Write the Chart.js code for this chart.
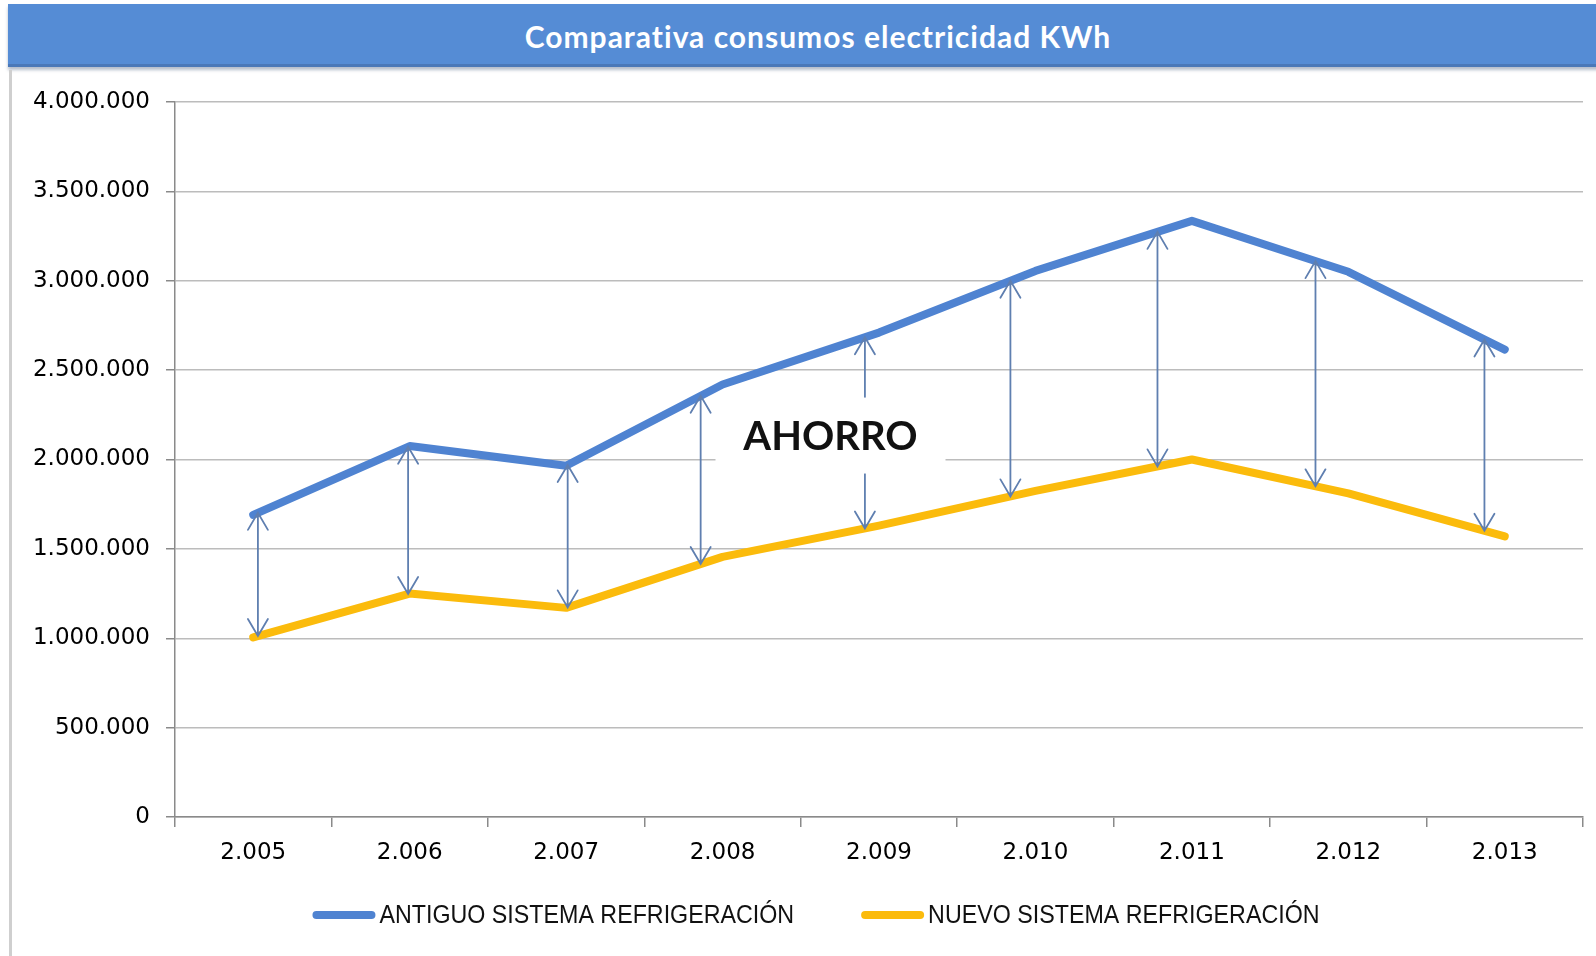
<!DOCTYPE html>
<html>
<head>
<meta charset="utf-8">
<script src="https://cdn.jsdelivr.net/npm/chart.js@4.4.0/dist/chart.umd.min.js"></script>
<style>
    html, body { margin: 0; padding: 0; background: #fff; width: 1596px; height: 956px; overflow: hidden; }
    #titulo {
        position: absolute; left: 8px; top: 4px; width: 1588px; height: 60px;
        background: #558cd5; border-bottom: 3px solid #4a78b8;
        box-shadow: 0 3px 3px rgba(90, 110, 140, 0.45);
        color: #fff; font: bold 30px Lato, sans-serif; letter-spacing: 1px;
        display: flex; align-items: center; justify-content: center;
        padding-left: 16px; padding-top: 3px; height: 57px; box-sizing: content-box;
    }
    #marco { position: absolute; left: 9px; top: 70px; width: 3px; height: 886px; background: #cfcfcf; }
    #lienzo { position: absolute; left: 0; top: 72px; width: 1596px; height: 884px; }
</style>
</head>
<body>
<div id="titulo">Comparativa consumos electricidad KWh</div>
<div id="marco"></div>
<div id="lienzo"><canvas id="grafico"></canvas></div>
<script>
const anios = ['2.005', '2.006', '2.007', '2.008', '2.009', '2.010', '2.011', '2.012', '2.013'];
const antiguo = [1690000, 2075000, 1965000, 2420000, 2710000, 3055000, 3335000, 3050000, 2615000];
const nuevo = [1005000, 1250000, 1170000, 1455000, 1630000, 1825000, 2000000, 1810000, 1570000];
const etiquetasY = ['0', '500.000', '1.000.000', '1.500.000', '2.000.000', '2.500.000', '3.000.000', '3.500.000', '4.000.000'];

// las flechas de ahorro no caen justo en el año, van un poco desplazadas (en fracción de categoría)
const desplazFlechas = [0.03, -0.01, 0.01, -0.14, -0.09, -0.16, -0.22, -0.21, -0.13];

const interpolar = (serie, pos) => {
    const i0 = Math.max(0, Math.min(serie.length - 2, Math.floor(pos)));
    const t = pos - i0;
    return serie[i0] + (serie[i0 + 1] - serie[i0]) * t;
};

const flechasAhorro = {
    id: 'flechasAhorro',
    afterDatasetsDraw(chart, args, opts) {
        const { ctx } = chart;
        const ex = chart.scales.x, ey = chart.scales.y;
        ctx.save();
        ctx.strokeStyle = opts.color;
        ctx.lineWidth = 1.8;
        ctx.lineCap = 'round';
        desplazFlechas.forEach((d, i) => {
            const pos = i + d;
            const px = ex.getPixelForValue(pos);
            const yArriba = ey.getPixelForValue(interpolar(antiguo, pos));
            const yAbajo = ey.getPixelForValue(interpolar(nuevo, pos));
            ctx.beginPath();
            ctx.moveTo(px, yArriba);
            ctx.lineTo(px, yAbajo);
            // punta superior
            ctx.moveTo(px - 10, yArriba + 17);
            ctx.lineTo(px, yArriba);
            ctx.lineTo(px + 10, yArriba + 17);
            // punta inferior
            ctx.moveTo(px - 10, yAbajo - 17);
            ctx.lineTo(px, yAbajo);
            ctx.lineTo(px + 10, yAbajo - 17);
            ctx.stroke();
        });

        // rótulo AHORRO con fondo blanco
        const cx = ex.getPixelForValue(opts.indice);
        const cy = ey.getPixelForValue(opts.valor);
        ctx.fillStyle = '#fff';
        ctx.fillRect(cx - 115, cy - 38, 230, 76);
        ctx.fillStyle = '#111';
        ctx.font = 'bold 40px Lato, sans-serif';
        ctx.textAlign = 'center';
        ctx.textBaseline = 'middle';
        ctx.fillText(opts.texto, cx, cy + 2);
        ctx.restore();
    }
};

const leyenda = {
    id: 'leyenda',
    afterDraw(chart, args, opts) {
        const { ctx } = chart;
        ctx.save();
        ctx.font = opts.font;
        const items = chart.data.datasets.map(ds => ({
            texto: ds.label,
            color: ds.borderColor,
            w: ctx.measureText(ds.label).width * opts.escala
        }));
        const total = items.reduce((s, it) => s + opts.linea + opts.hueco + it.w, 0) + opts.separacion * (items.length - 1);
        let x = chart.width / 2 + opts.desplazamiento - total / 2;
        const y = chart.chartArea.bottom + opts.distancia;
        items.forEach(it => {
            ctx.strokeStyle = it.color;
            ctx.lineWidth = 8;
            ctx.lineCap = 'round';
            ctx.beginPath();
            ctx.moveTo(x + 4, y);
            ctx.lineTo(x + opts.linea - 4, y);
            ctx.stroke();
            x += opts.linea + opts.hueco;
            ctx.save();
            ctx.translate(x, y);
            ctx.scale(opts.escala, 1);
            ctx.fillStyle = '#111';
            ctx.textBaseline = 'middle';
            ctx.fillText(it.texto, 0, 1);
            ctx.restore();
            x += it.w + opts.separacion;
        });
        ctx.restore();
    }
};

const fuenteEjes = { family: 'DejaVu Sans', size: 23 };

new Chart(document.getElementById('grafico').getContext('2d'), {
    type: 'line',
    data: {
        labels: anios,
        datasets: [{
            label: 'ANTIGUO SISTEMA REFRIGERACIÓN',
            data: antiguo,
            borderColor: '#4f83d1',
            backgroundColor: '#4f83d1',
            borderWidth: 8,
            pointRadius: 0,
            borderCapStyle: 'round',
            borderJoinStyle: 'round'
        }, {
            label: 'NUEVO SISTEMA REFRIGERACIÓN',
            data: nuevo,
            borderColor: '#fbbb0c',
            backgroundColor: '#fbbb0c',
            borderWidth: 8,
            pointRadius: 0,
            borderCapStyle: 'round',
            borderJoinStyle: 'round'
        }]
    },
    options: {
        responsive: true,
        maintainAspectRatio: false,
        animation: false,
        layout: { padding: { left: 12, right: 13, top: 30, bottom: 67 } },
        scales: {
            x: {
                offset: true,
                grid: { offset: true, drawOnChartArea: false, tickLength: 10, color: '#8a8a8a', lineWidth: 1.5 },
                border: { color: '#8a8a8a', width: 1.5 },
                ticks: { font: fuenteEjes, color: '#000', padding: 12, maxRotation: 0, autoSkip: false },
                afterFit: s => { s.height = 72; s.paddingLeft = 0; s.paddingRight = 0; }
            },
            y: {
                min: 0,
                max: 4000000,
                grid: { color: '#bcbcbc', lineWidth: 1.5, tickLength: 9, tickColor: '#8a8a8a' },
                border: { color: '#8a8a8a', width: 1.5 },
                ticks: {
                    stepSize: 500000,
                    font: fuenteEjes,
                    color: '#000',
                    padding: 16,
                    callback: (v, i) => etiquetasY[i]
                },
                afterFit: s => { s.width = 163; s.paddingTop = 0; s.paddingBottom = 0; }
            }
        },
        plugins: {
            legend: { display: false },
            tooltip: { enabled: false },
            flechasAhorro: { color: '#5f7fb0', indice: 3.69, valor: 2134000, texto: 'AHORRO' },
            leyenda: { font: '25px "Liberation Sans", Arial, sans-serif', escala: 0.93, linea: 63, hueco: 4, separacion: 67, desplazamiento: 18, distancia: 98 }
        }
    },
    plugins: [flechasAhorro, leyenda]
});
</script>
</body>
</html>
